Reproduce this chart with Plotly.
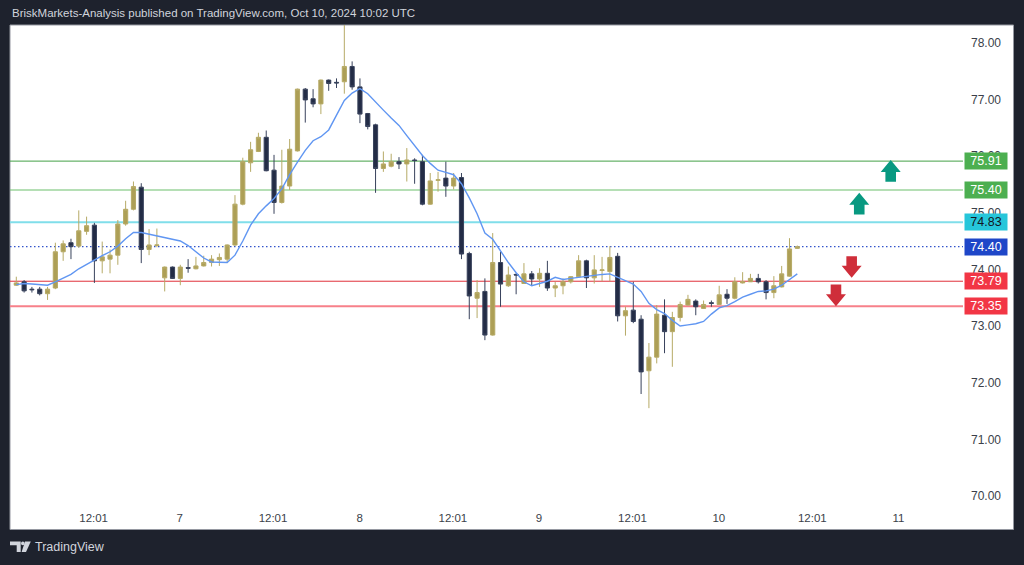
import plotly.graph_objects as go

# ---------------- data (hourly bars) ----------------
bars = list(range(1, 102))
opens = [73.72, 73.78, 73.65, 73.65, 73.57, 73.67, 74.31, 74.47, 74.41, 74.67,
         74.78, 74.15, 74.18, 74.25, 74.80, 75.06, 75.45, 74.35, 74.42, 73.85,
         74.04, 73.84, 74.03, 74.01, 74.06, 74.12, 74.17, 74.18, 74.43, 75.15,
         75.88, 76.08, 76.33, 75.75, 75.18, 75.47, 76.09, 77.18, 77.01, 76.92,
         77.34, 77.30, 77.31, 77.58, 77.22, 76.75, 76.55, 75.78, 75.82, 75.90,
         75.86, 75.93, 75.90, 75.15, 75.57, 75.61, 75.47, 75.62, 74.28, 73.49,
         73.61, 72.84, 74.12, 73.71, 73.91, 73.75, 73.92, 73.83, 73.93, 73.67,
         73.71, 73.78, 73.87, 74.15, 73.85, 73.98, 73.96, 74.23, 73.18, 73.28,
         73.12, 72.21, 72.45, 73.19, 72.90, 73.15, 73.37, 73.44, 73.31, 73.41,
         73.38, 73.56, 73.49, 73.76, 73.78, 73.84, 73.78, 73.59, 73.69, 73.88,
         74.37]
highs = [73.87, 73.81, 73.69, 73.69, 73.69, 74.47, 74.51, 74.54, 75.04, 74.93,
         74.82, 74.49, 74.35, 74.87, 75.21, 75.55, 75.52, 74.71, 74.72, 74.05,
         74.05, 74.08, 74.18, 74.22, 74.24, 74.25, 74.28, 74.44, 75.31, 75.97,
         76.25, 76.41, 76.45, 76.02, 76.11, 76.30, 77.19, 77.20, 77.18, 77.35,
         77.35, 77.37, 78.35, 77.67, 77.37, 76.76, 76.57, 76.08, 76.04, 75.98,
         76.14, 75.96, 76.02, 75.70, 75.72, 75.90, 75.70, 75.70, 74.31, 73.81,
         73.84, 74.64, 74.31, 74.05, 73.93, 74.11, 73.97, 74.02, 74.15, 73.78,
         73.84, 73.88, 74.25, 74.17, 74.25, 74.22, 74.41, 74.29, 73.34, 73.78,
         73.19, 72.70, 73.37, 73.47, 73.25, 73.43, 73.55, 73.47, 73.45, 73.45,
         73.71, 73.65, 73.86, 73.95, 73.92, 73.92, 73.81, 73.88, 74.06, 74.55,
         74.42]
lows = [73.71, 73.59, 73.59, 73.54, 73.46, 73.65, 74.15, 74.18, 74.38, 74.61,
        73.76, 73.93, 73.93, 74.08, 74.77, 75.04, 74.11, 74.25, 74.39, 73.61,
        73.83, 73.72, 73.94, 74.00, 74.05, 74.05, 74.06, 74.13, 74.41, 75.13,
        75.72, 76.07, 75.73, 74.98, 75.16, 75.40, 76.08, 76.59, 76.86, 76.74,
        77.15, 77.20, 77.10, 77.17, 76.58, 76.47, 75.35, 75.72, 75.80, 75.77,
        75.55, 75.51, 75.13, 75.14, 75.37, 75.28, 75.41, 74.18, 73.12, 73.14,
        72.75, 72.83, 73.34, 73.69, 73.56, 73.75, 73.71, 73.69, 73.62, 73.51,
        73.56, 73.75, 73.86, 73.67, 73.75, 73.79, 73.79, 73.08, 72.83, 73.05,
        71.80, 71.55, 72.34, 72.52, 72.28, 73.08, 73.36, 73.19, 73.30, 73.34,
        73.37, 73.39, 73.47, 73.75, 73.78, 73.75, 73.47, 73.49, 73.68, 73.87,
        74.36]
closes = [73.76, 73.62, 73.64, 73.57, 73.65, 74.31, 74.45, 74.40, 74.68, 74.77,
          74.15, 74.22, 74.25, 74.80, 75.06, 75.46, 74.35, 74.43, 74.43, 74.04,
          73.84, 74.04, 74.02, 74.06, 74.12, 74.18, 74.21, 74.43, 75.15, 75.90,
          76.11, 76.33, 75.74, 75.18, 75.47, 76.12, 77.18, 76.99, 76.92, 77.34,
          77.28, 77.29, 77.58, 77.22, 76.74, 76.52, 75.78, 75.86, 75.90, 75.86,
          75.93, 75.92, 75.15, 75.56, 75.58, 75.47, 75.61, 74.27, 73.53, 73.59,
          72.84, 74.12, 73.74, 73.90, 73.90, 73.92, 73.83, 73.93, 73.67, 73.71,
          73.78, 73.87, 74.15, 73.85, 73.99, 73.99, 74.21, 73.18, 73.27, 73.08,
          72.19, 72.45, 73.21, 72.90, 73.15, 73.38, 73.47, 73.34, 73.38, 73.40,
          73.55, 73.49, 73.78, 73.78, 73.84, 73.78, 73.59, 73.71, 73.92, 74.36,
          74.40]
ma = [73.73, 73.75, 73.74, 73.73, 73.72, 73.78, 73.84, 73.91, 74.01, 74.09,
      74.17, 74.24, 74.31, 74.41, 74.54, 74.65, 74.65, 74.62, 74.58, 74.55,
      74.53, 74.50, 74.42, 74.31, 74.20, 74.13, 74.12, 74.12, 74.25, 74.50,
      74.78, 74.98, 75.12, 75.25, 75.42, 75.67, 75.89, 76.10, 76.27, 76.34,
      76.46, 76.71, 76.98, 77.11, 77.19, 77.10, 76.95, 76.81, 76.67, 76.54,
      76.36, 76.18, 76.01, 75.87, 75.75, 75.71, 75.67, 75.51, 75.26, 74.98,
      74.64, 74.53, 74.32, 74.12, 73.94, 73.78, 73.71, 73.75, 73.79, 73.86,
      73.82, 73.84, 73.86, 73.88, 73.90, 73.91, 73.92, 73.86, 73.79, 73.74,
      73.61, 73.40, 73.29, 73.22, 73.10, 73.00, 73.02, 73.04, 73.08, 73.21,
      73.32, 73.36, 73.43, 73.51, 73.56, 73.61, 73.62, 73.65, 73.72, 73.82,
      73.92]

tick_pos = [10.9, 21.92, 33.87, 44.96, 56.9, 67.93, 79.9, 90.95, 102.92, 113.96]
tick_text = ["12:01", "7", "12:01", "8", "12:01", "9", "12:01", "10", "12:01", "11"]
price_ticks = [70, 71, 72, 73, 74, 75, 76, 77, 78]

levels = [75.91, 75.40, 74.83, 74.40, 73.79, 73.35]
level_line_colors = ["#43a047", "#6cc06c", "#80deea", "#3355cc", "#e0303a", "#f7808a"]
level_line_widths = [1, 1.2, 2, 1.2, 1, 2]
level_line_dash = ["solid", "solid", "solid", "1.5px,2.5px", "solid", "solid"]
level_box_colors = ["#4caf50", "#4caf50", "#26c6da", "#1e46c8", "#f23645", "#f23645"]
level_text_colors = ["#ffffff", "#ffffff", "#131722", "#ffffff", "#ffffff", "#ffffff"]

arrow_bars = [112.96, 108.93, 107.96, 105.95]
arrow_tips = [75.93, 75.35, 73.85, 73.35]
arrow_dirs = ["up", "up", "down", "down"]

header = "BriskMarkets-Analysis published on TradingView.com, Oct 10, 2024 10:02 UTC"

# ---------------- figure ----------------
W, H = 1024, 565
L, R, T, B = 10, 61, 25, 60
pw, ph = W - L - R, H - T - B

fig = go.Figure()
fig.add_trace(go.Candlestick(
    x=bars, open=opens, high=highs, low=lows, close=closes,
    increasing=dict(fillcolor="#ad9f56", line=dict(color="#b6aa66", width=1)),
    decreasing=dict(fillcolor="#232c46", line=dict(color="#38425c", width=1)),
    whiskerwidth=0, hoverinfo="skip", showlegend=False,
))
fig.add_trace(go.Scatter(
    x=bars, y=ma, mode="lines", line=dict(color="#6096f2", width=1.4),
    hoverinfo="skip", showlegend=False,
))

shapes = []
# white chart panel
shapes.append(dict(type="rect", xref="paper", yref="paper",
                   x0=0, x1=(1013.5 - L) / pw, y0=(H - B - 529.5) / ph, y1=(H - B - 25) / ph,
                   fillcolor="#ffffff", line=dict(color="#9598a1", width=1), layer="below"))
for lv, lc, lw, ld in zip(levels, level_line_colors, level_line_widths, level_line_dash):
    shapes.append(dict(type="line", xref="paper", yref="y", x0=0, x1=1, y0=lv, y1=lv,
                       line=dict(color=lc, width=lw, dash=ld), layer="below"))

up_path = "M0,0 L10,-12 L5.3,-12 L5.3,-21.7 L-5.3,-21.7 L-5.3,-12 L-10,-12 Z"
down_path = "M0,0 L10,12 L5.3,12 L5.3,21.7 L-5.3,21.7 L-5.3,12 L-10,12 Z"
for ab, at, ad in zip(arrow_bars, arrow_tips, arrow_dirs):
    shapes.append(dict(type="path", xref="x", yref="y", xsizemode="pixel", ysizemode="pixel",
                       xanchor=ab, yanchor=at, path=up_path if ad == "up" else down_path,
                       fillcolor="#089981" if ad == "up" else "#cf2e3a", line=dict(width=0)))

# TradingView logo in footer
logo_x = 0
logo_y = (H - B - 552) / ph
shapes.append(dict(type="path", xref="paper", yref="paper", xsizemode="pixel", ysizemode="pixel",
                   xanchor=logo_x, yanchor=logo_y,
                   path="M0,10.5 L10.7,10.5 L10.7,0 L6.7,0 L6.7,6.8 L0,6.8 Z",
                   fillcolor="#d1d4dc", line=dict(width=0)))
shapes.append(dict(type="circle", xref="paper", yref="paper", xsizemode="pixel", ysizemode="pixel",
                   xanchor=logo_x, yanchor=logo_y, x0=11, x1=14.6, y0=6.8, y1=10.4,
                   fillcolor="#d1d4dc", line=dict(width=0)))
shapes.append(dict(type="path", xref="paper", yref="paper", xsizemode="pixel", ysizemode="pixel",
                   xanchor=logo_x, yanchor=logo_y,
                   path="M15,10.5 L20.8,10.5 L16,0 L11.6,0 Z",
                   fillcolor="#d1d4dc", line=dict(width=0)))

annotations = []
for lv, bc, tc in zip(levels, level_box_colors, level_text_colors):
    annotations.append(dict(xref="paper", yref="y", x=1, y=lv, xanchor="left", yanchor="middle",
                            xshift=1, text=f"{lv:.2f}", showarrow=False,
                            font=dict(family="Liberation Sans, Arial", size=12.5, color=tc),
                            bgcolor=bc, width=40, height=14, borderpad=1, align="center"))
annotations.append(dict(xref="paper", yref="paper", x=0, y=(H - B - 13) / ph,
                        xanchor="left", yanchor="middle", text=header, showarrow=False,
                        font=dict(family="Liberation Sans, Arial", size=11.5, color="#d1d4dc")))
annotations.append(dict(xref="paper", yref="paper", x=(33 - L) / pw, y=(H - B - 547) / ph,
                        xanchor="left", yanchor="middle", text="TradingView", showarrow=False,
                        font=dict(family="Liberation Sans, Arial", size=12.5, color="#d1d4dc")))

fig.update_layout(
    width=W, height=H,
    margin=dict(l=L, r=R, t=T, b=B, pad=0),
    paper_bgcolor="#1e222d",
    plot_bgcolor="rgba(0,0,0,0)",
    showlegend=False,
    shapes=shapes,
    annotations=annotations,
    boxgap=0.24,
    xaxis=dict(range=[0.193, 122.216], tickvals=tick_pos, ticktext=tick_text,
               showgrid=False, zeroline=False, showline=False, ticks="",
               rangeslider=dict(visible=False),
               tickfont=dict(family="Liberation Sans, Arial", size=11.5, color="#3b3f4a"),
               ticklabelstandoff=4, fixedrange=True),
    yaxis=dict(range=[69.841, 78.312], side="right", tickvals=price_ticks,
               ticktext=[f"{v:.2f}" for v in price_ticks],
               showgrid=False, zeroline=False, showline=False, ticks="",
               tickfont=dict(family="Liberation Sans, Arial", size=12, color="#3b3f4a"),
               ticklabelstandoff=7, fixedrange=True),
)

fig.write_html("out.html")
